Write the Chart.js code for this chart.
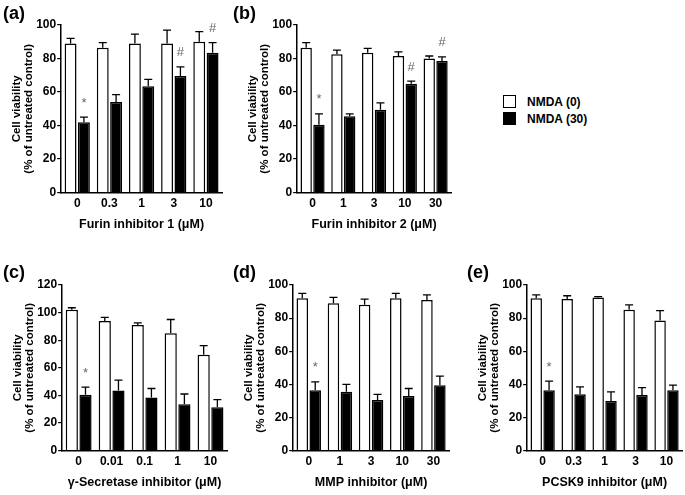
<!DOCTYPE html>
<html>
<head>
<meta charset="utf-8">
<script src="https://cdn.jsdelivr.net/npm/chart.js@4.4.0/dist/chart.umd.min.js"></script>
<style>
  body { margin: 0; background: #fff; font-family: "Liberation Sans", Arial, sans-serif; }
  #wrap { position: relative; width: 685px; height: 495px; overflow: hidden; }
  canvas { position: absolute; }
  .lbl { position: absolute; font-weight: bold; font-size: 18px; }
  .legend { position: absolute; left: 503px; top: 95px; font-weight: bold; font-size: 12px; }
  .legend div { height: 17px; line-height: 13px; }
  .legend span { display: inline-block; width: 13px; height: 13px; border: 1px solid #000; box-sizing: border-box; vertical-align: -2px; margin-right: 11px; }
</style>
</head>
<body>
<div id="wrap">
  <canvas id="chartA" width="224" height="234" style="left:0;top:0"></canvas>
  <canvas id="chartB" width="217" height="234" style="left:236px;top:0"></canvas>
  <canvas id="chartC" width="228" height="242" style="left:1px;top:250px"></canvas>
  <canvas id="chartD" width="219" height="242" style="left:232px;top:250px"></canvas>
  <canvas id="chartE" width="218" height="242" style="left:466px;top:250px"></canvas>
  <div class="lbl" style="left:3px;top:3px">(a)</div>
  <div class="lbl" style="left:233px;top:3px">(b)</div>
  <div class="lbl" style="left:3px;top:262px">(c)</div>
  <div class="lbl" style="left:233px;top:262px">(d)</div>
  <div class="lbl" style="left:467px;top:262px">(e)</div>
  <div class="legend">
    <div><span style="background:#fff"></span>NMDA (0)</div>
    <div><span style="background:#000"></span>NMDA (30)</div>
  </div>
</div>
<script>
// (a) Furin inhibitor 1
const doseA = ['0', '0.3', '1', '3', '10'];
const ctrlA = [89, 86.5, 89, 89, 90];
const ctrlErrA = [3, 3, 5.5, 8, 6];
const nmdaA = [42, 54, 63.5, 69.5, 83.5];
const nmdaErrA = [3, 4.5, 4, 5.5, 6];
const marksA = [['*', 0], ['#', 3], ['#', 4]];

// (b) Furin inhibitor 2
const doseB = ['0', '1', '3', '10', '30'];
const ctrlB = [86.5, 82.5, 83.5, 81.5, 80];
const ctrlErrB = [3, 2.5, 2.5, 2.5, 1.5];
const nmdaB = [40.5, 45.5, 49.5, 65, 78.5];
const nmdaErrB = [6.5, 1.5, 4, 1.5, 2.5];
const marksB = [['*', 0], ['#', 3], ['#', 4]];

// (c) gamma-secretase inhibitor
const doseC = ['0', '0.01', '0.1', '1', '10'];
const ctrlC = [102, 94, 91, 85, 69.5];
const ctrlErrC = [1.5, 2.5, 1.5, 10, 6.5];
const nmdaC = [40.5, 43.5, 38.5, 33.5, 31.5];
const nmdaErrC = [5.5, 7.5, 6.5, 7.5, 5.5];
const marksC = [['*', 0]];

// (d) MMP inhibitor
const doseD = ['0', '1', '3', '10', '30'];
const ctrlD = [92, 89, 88, 92, 91];
const ctrlErrD = [3, 3.5, 3.5, 3, 3];
const nmdaD = [36.5, 35.5, 30.5, 33, 39.5];
const nmdaErrD = [5, 4.5, 3.5, 4.5, 5.5];
const marksD = [['*', 0]];

// (e) PCSK9 inhibitor
const doseE = ['0', '0.3', '1', '3', '10'];
const ctrlE = [92, 91.5, 92.5, 85, 78.5];
const ctrlErrE = [2, 2, 0.5, 3, 6];
const nmdaE = [36.5, 34, 30, 33.5, 36.5];
const nmdaErrE = [5.5, 4.5, 5.5, 4.5, 3];
const marksE = [['*', 0]];

const FONT = '"Liberation Sans", Arial, sans-serif';

// draws upward error bars and the * / # marks over the NMDA bars
const errorBarPlugin = {
    id: 'errorBars',
    afterDatasetsDraw(chart) {
        const ctx = chart.ctx;
        const yScale = chart.scales.y;
        ctx.save();
        ctx.strokeStyle = '#000';
        ctx.lineWidth = 1.3;
        chart.data.datasets.forEach((ds, i) => {
            const meta = chart.getDatasetMeta(i);
            meta.data.forEach((bar, j) => {
                const top = yScale.getPixelForValue(ds.data[j] + ds.errors[j]);
                ctx.beginPath();
                ctx.moveTo(bar.x, bar.y);
                ctx.lineTo(bar.x, top);
                ctx.moveTo(bar.x - 4, top);
                ctx.lineTo(bar.x + 4, top);
                ctx.stroke();
            });
        });
        const marks = chart.options.plugins.errorBars.marks || [];
        const nmda = chart.data.datasets[1];
        const meta = chart.getDatasetMeta(1);
        ctx.fillStyle = '#666';
        ctx.font = '13px ' + FONT;
        ctx.textAlign = 'center';
        ctx.textBaseline = 'middle';
        marks.forEach(([txt, j]) => {
            const y = yScale.getPixelForValue(nmda.data[j] + nmda.errors[j]) - 14;
            ctx.fillText(txt, meta.data[j].x, y);
        });
        ctx.restore();
    }
};

function makeChart(id, labels, ctrl, ctrlErr, nmda, nmdaErr, marks, xTitle, yMax, padTop) {
    const barStyle = { borderColor: '#000', borderWidth: 1.5, categoryPercentage: 0.83, barPercentage: 0.89 };
    new Chart(document.getElementById(id), {
        type: 'bar',
        data: {
            labels: labels,
            datasets: [
                Object.assign({ label: 'NMDA (0)', data: ctrl, errors: ctrlErr, backgroundColor: '#fff' }, barStyle),
                Object.assign({ label: 'NMDA (30)', data: nmda, errors: nmdaErr, backgroundColor: '#000' }, barStyle)
            ]
        },
        options: {
            responsive: false,
            animation: false,
            layout: { padding: { top: padTop, left: 11, right: 2, bottom: 2 } },
            plugins: {
                legend: { display: false },
                tooltip: { enabled: false },
                errorBars: { marks: marks }
            },
            scales: {
                x: {
                    grid: { display: false, drawTicks: false },
                    border: { display: true, color: '#000', width: 1.5 },
                    ticks: { color: '#000', font: { family: FONT, size: 12, weight: 'bold' }, padding: 4 },
                    title: { display: true, text: xTitle, color: '#000', font: { family: FONT, size: 12.5, weight: 'bold' }, padding: { top: 2, bottom: 0 } }
                },
                y: {
                    min: 0,
                    max: yMax,
                    grid: { drawOnChartArea: false, drawTicks: true, tickLength: 4, color: '#000', lineWidth: 1.2 },
                    border: { display: true, color: '#000', width: 1.5 },
                    ticks: { stepSize: 20, color: '#000', font: { family: FONT, size: 12, weight: 'bold' }, padding: 1 },
                    title: {
                        display: true,
                        text: ['Cell viability', '(% of untreated control)'],
                        color: '#000',
                        font: { family: FONT, size: 11.5, weight: 'bold', lineHeight: 1.05 },
                        padding: { top: 0, bottom: 0 }
                    }
                }
            }
        },
        plugins: [errorBarPlugin]
    });
}

makeChart('chartA', doseA, ctrlA, ctrlErrA, nmdaA, nmdaErrA, marksA, 'Furin inhibitor 1 (\u03bcM)', 100, 25);
makeChart('chartB', doseB, ctrlB, ctrlErrB, nmdaB, nmdaErrB, marksB, 'Furin inhibitor 2 (\u03bcM)', 100, 25);
makeChart('chartC', doseC, ctrlC, ctrlErrC, nmdaC, nmdaErrC, marksC, '\u03b3-Secretase inhibitor (\u03bcM)', 120, 35);
makeChart('chartD', doseD, ctrlD, ctrlErrD, nmdaD, nmdaErrD, marksD, 'MMP inhibitor (\u03bcM)', 100, 35);
makeChart('chartE', doseE, ctrlE, ctrlErrE, nmdaE, nmdaErrE, marksE, 'PCSK9 inhibitor (\u03bcM)', 100, 35);
</script>
</body>
</html>
